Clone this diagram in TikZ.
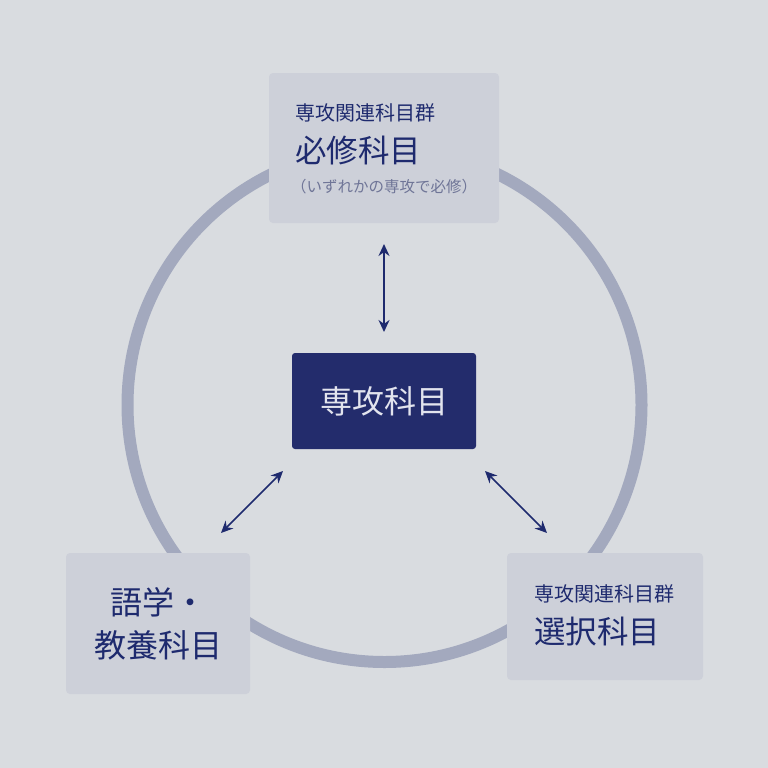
\documentclass[tikz,border=0pt]{standalone}
\usepackage{fontspec}
\setmainfont{Noto Sans CJK JP}
\usetikzlibrary{arrows.meta}
\definecolor{bgc}{HTML}{D9DCE0}
\definecolor{boxc}{HTML}{CDD0D9}
\definecolor{ringc}{HTML}{A3A9BE}
\definecolor{navy}{HTML}{232C6C}
\definecolor{txtc}{HTML}{1E2A6E}
\definecolor{subc}{HTML}{6F7597}
\definecolor{lightc}{HTML}{E2E4EE}
\tikzset{
  panel/.style={fill=boxc, rounded corners=4pt, draw=none, inner sep=0pt},
  core/.style={fill=navy, rounded corners=3pt, draw=none, inner sep=0pt},
  link/.style={draw=txtc, line width=1.5pt, {Stealth[length=12pt,width=11pt]}-{Stealth[length=12pt,width=11pt]}},
  small/.style={font=\fontsize{20}{24}\selectfont, text=txtc, inner sep=0pt, anchor=west},
  big/.style={font=\fontsize{31.5}{36}\selectfont, text=txtc, inner sep=0pt, anchor=west},
  note/.style={font=\fontsize{15.5}{18}\selectfont, text=subc, inner sep=0pt, anchor=west}
}
\begin{document}
\begin{tikzpicture}[x=1pt,y=-1pt]
\fill[bgc] (0,0) rectangle (768,768);
\useasboundingbox (0,0) rectangle (768,768);
\draw[ringc, line width=12pt] (384.5,405) circle (257);
% top panel
\node[panel, minimum width=230pt, minimum height=150pt] (top) at (384,148) {};
\node[small] (topa) at (295,113) {専攻関連科目群};
\node[big] (topb) at (295,151) {必修科目};
\node[note] (topc) at (291,187) {（いずれかの専攻で必修）};
% center
\node[core, minimum width=184pt, minimum height=96pt, text=lightc, font=\fontsize{32}{38}\selectfont] (mid) at (384,401) {専攻科目};
% bottom left
\node[panel, minimum width=184pt, minimum height=141pt] (bl) at (158,623.5) {};
\node[font=\fontsize{32}{43}\selectfont, text=txtc, align=center, inner sep=0pt] (blt) at (158,624) {語学・\\教養科目};
% bottom right
\node[panel, minimum width=196pt, minimum height=127pt] (br) at (605,616.5) {};
\node[small] (bra) at (534,594) {専攻関連科目群};
\node[big] (brb) at (534,632) {選択科目};
% arrows
\coordinate (a1) at (384,244);
\coordinate (a2) at (384,332);
\coordinate (b1) at (283,471);
\coordinate (b2) at (221,533);
\coordinate (c1) at (485,471);
\coordinate (c2) at (547,533);
\draw[link] (a1) -- (a2);
\draw[link] (b1) -- (b2);
\draw[link] (c1) -- (c2);
\end{tikzpicture}
\end{document}
